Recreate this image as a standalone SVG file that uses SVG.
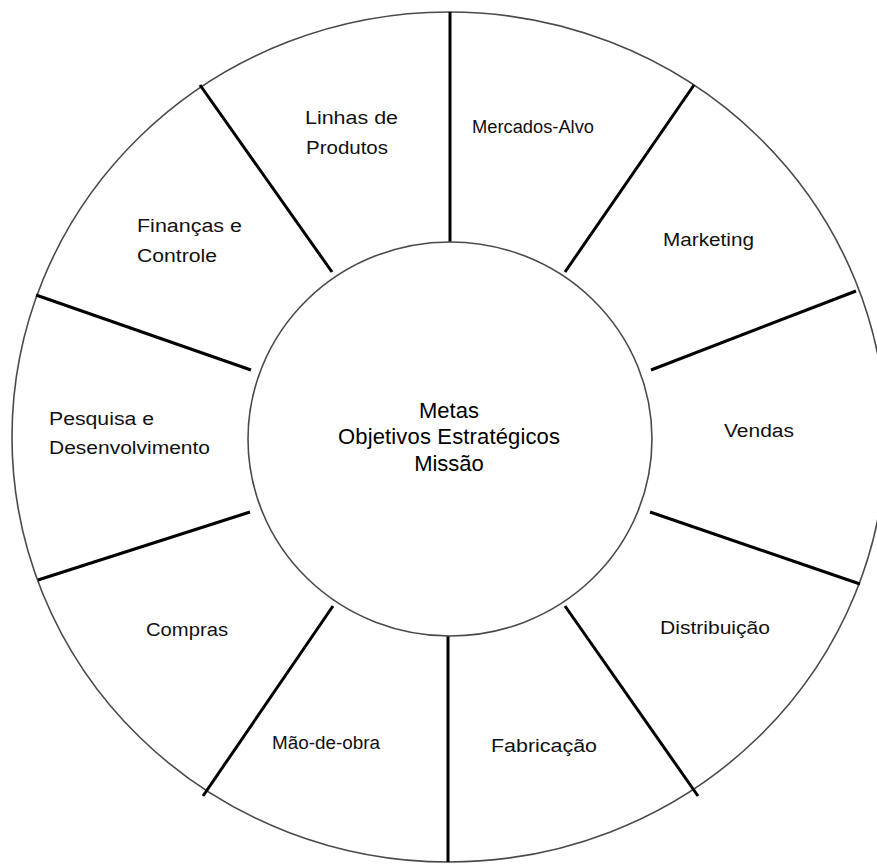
<svg xmlns="http://www.w3.org/2000/svg" width="877" height="864" viewBox="0 0 877 864">
  <style>
    .ring { fill: #ffffff; stroke: #4a4a4a; stroke-width: 1.6; }
    .spoke { stroke: #000000; stroke-width: 3; stroke-linecap: butt; }
    .lbl { font-family: "Liberation Sans", Arial, sans-serif; font-size: 18px; fill: #111111; }
    .core { font-family: "Liberation Sans", Arial, sans-serif; font-size: 22px; fill: #000000; text-anchor: middle; }
  </style>
  <rect width="877" height="864" fill="#ffffff"/>

  <!-- outer wheel -->
  <g id="wheel">
    <ellipse class="ring" cx="449" cy="437" rx="437" ry="425"/>
  </g>

  <!-- spokes dividing the wheel into sectors -->
  <g id="connectors">
    <line class="spoke" x1="450" y1="12" x2="450" y2="242"/>
    <line class="spoke" x1="694" y1="85" x2="565" y2="272"/>
    <line class="spoke" x1="856" y1="291" x2="651" y2="370"/>
    <line class="spoke" x1="860" y1="584" x2="650" y2="512"/>
    <line class="spoke" x1="698" y1="796" x2="565" y2="606"/>
    <line class="spoke" x1="448" y1="862" x2="448" y2="636"/>
    <line class="spoke" x1="203" y1="796" x2="333" y2="606"/>
    <line class="spoke" x1="38" y1="580" x2="250" y2="512"/>
    <line class="spoke" x1="36" y1="295" x2="251" y2="370"/>
    <line class="spoke" x1="200" y1="85" x2="332" y2="272"/>
  </g>

  <!-- hub -->
  <g id="hub">
    <ellipse class="ring" cx="450" cy="439" rx="202" ry="197"/>
    <text class="core" x="449" y="418">Metas</text>
    <text class="core" x="449" y="444" textLength="222" lengthAdjust="spacing">Objetivos Estratégicos</text>
    <text class="core" x="449" y="471">Missão</text>
  </g>

  <!-- sectors -->
  <g id="linhas-de-produtos">
    <text class="lbl" x="305" y="124" textLength="93" lengthAdjust="spacingAndGlyphs">Linhas de</text>
    <text class="lbl" x="306" y="154" textLength="82" lengthAdjust="spacingAndGlyphs">Produtos</text>
  </g>
  <g id="mercados-alvo">
    <text class="lbl" x="472" y="133" textLength="122" lengthAdjust="spacingAndGlyphs">Mercados-Alvo</text>
  </g>
  <g id="marketing">
    <text class="lbl" x="663" y="246" textLength="91" lengthAdjust="spacingAndGlyphs">Marketing</text>
  </g>
  <g id="vendas">
    <text class="lbl" x="724" y="437" textLength="70" lengthAdjust="spacingAndGlyphs">Vendas</text>
  </g>
  <g id="distribuicao">
    <text class="lbl" x="660" y="634" textLength="110" lengthAdjust="spacingAndGlyphs">Distribuição</text>
  </g>
  <g id="fabricacao">
    <text class="lbl" x="491" y="752" textLength="106" lengthAdjust="spacingAndGlyphs">Fabricação</text>
  </g>
  <g id="mao-de-obra">
    <text class="lbl" x="272" y="749" textLength="108" lengthAdjust="spacingAndGlyphs">Mão-de-obra</text>
  </g>
  <g id="compras">
    <text class="lbl" x="146" y="636" textLength="82" lengthAdjust="spacingAndGlyphs">Compras</text>
  </g>
  <g id="pesquisa-e-desenvolvimento">
    <text class="lbl" x="49" y="425" textLength="105" lengthAdjust="spacingAndGlyphs">Pesquisa e</text>
    <text class="lbl" x="49" y="454" textLength="161" lengthAdjust="spacingAndGlyphs">Desenvolvimento</text>
  </g>
  <g id="financas-e-controle">
    <text class="lbl" x="137" y="232" textLength="105" lengthAdjust="spacingAndGlyphs">Finanças e</text>
    <text class="lbl" x="137" y="262" textLength="80" lengthAdjust="spacingAndGlyphs">Controle</text>
  </g>
</svg>
